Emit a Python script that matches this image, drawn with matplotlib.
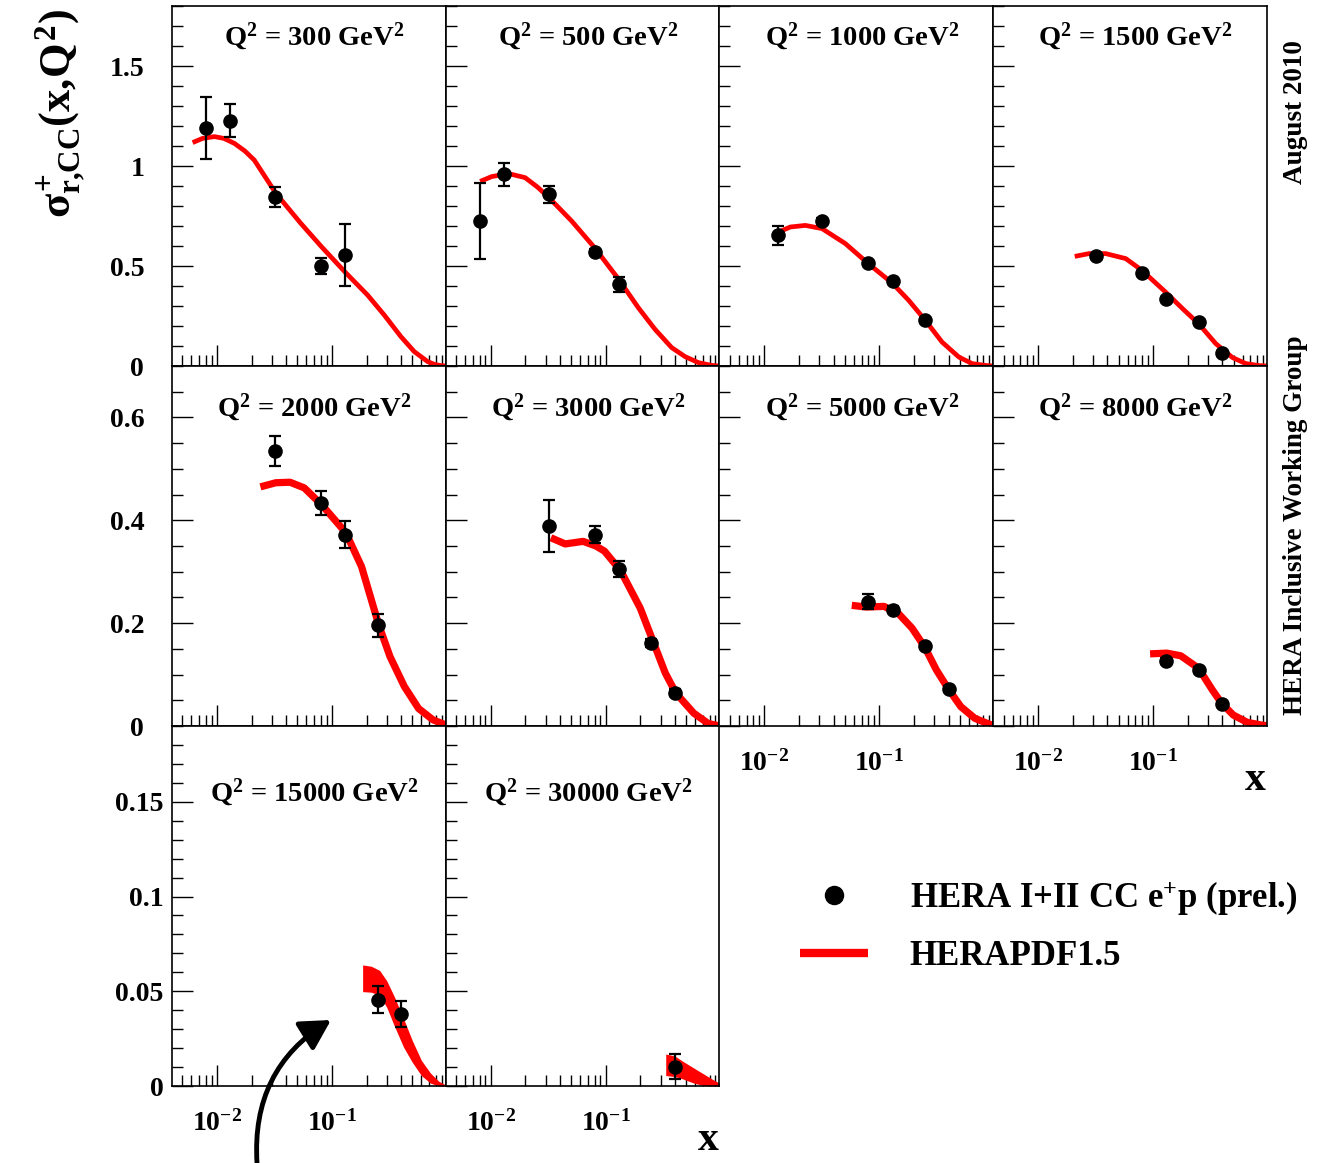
import numpy as np
import matplotlib.pyplot as plt
from matplotlib.lines import Line2D
from matplotlib.patches import FancyArrowPatch
from matplotlib.ticker import FixedLocator, MultipleLocator, LogLocator, NullFormatter

plt.rcParams['font.family'] = 'Liberation Serif'
plt.rcParams['font.weight'] = 'bold'
plt.rcParams['mathtext.fontset'] = 'custom'
plt.rcParams['mathtext.rm'] = 'Liberation Serif:bold'
plt.rcParams['mathtext.it'] = 'Liberation Serif:bold'
plt.rcParams['mathtext.bf'] = 'Liberation Serif:bold'
plt.rcParams['axes.linewidth'] = 1.2

# ---- measured reduced cross sections (HERA I+II CC e+p) ----
x_300 = [0.008, 0.013, 0.032, 0.08, 0.13]
sig_300 = [1.19, 1.227, 0.847, 0.502, 0.553]
err_300 = [0.155, 0.082, 0.05, 0.04, 0.155]

x_500 = [0.008, 0.013, 0.032, 0.08, 0.13]
sig_500 = [0.725, 0.958, 0.858, 0.572, 0.408]
err_500 = [0.188, 0.058, 0.043, 0.015, 0.038]

x_1000 = [0.013, 0.032, 0.08, 0.13, 0.25]
sig_1000 = [0.653, 0.723, 0.515, 0.423, 0.228]
err_1000 = [0.048, 0.015, 0.012, 0.012, 0.012]

x_1500 = [0.032, 0.08, 0.13, 0.25, 0.40]
sig_1500 = [0.55, 0.465, 0.337, 0.222, 0.067]
err_1500 = [0.012, 0.01, 0.01, 0.01, 0.008]

x_2000 = [0.032, 0.08, 0.13, 0.25]
sig_2000 = [0.534, 0.433, 0.372, 0.196]
err_2000 = [0.029, 0.023, 0.026, 0.022]

x_3000 = [0.032, 0.08, 0.13, 0.25, 0.40]
sig_3000 = [0.389, 0.372, 0.305, 0.162, 0.065]
err_3000 = [0.05, 0.016, 0.015, 0.008, 0.006]

x_5000 = [0.08, 0.13, 0.25, 0.40]
sig_5000 = [0.242, 0.226, 0.155, 0.072]
err_5000 = [0.015, 0.007, 0.006, 0.005]

x_8000 = [0.13, 0.25, 0.40]
sig_8000 = [0.127, 0.109, 0.042]
err_8000 = [0.006, 0.006, 0.004]

x_15000 = [0.25, 0.40]
sig_15000 = [0.0456, 0.038]
err_15000 = [0.0072, 0.007]

x_30000 = [0.40]
sig_30000 = [0.0102]
err_30000 = [0.0067]

# ---- HERAPDF1.5 predictions ----
fx_300 = [0.00615, 0.0075, 0.0095, 0.0115, 0.0142, 0.0175, 0.0211, 0.026, 0.0326, 0.0537,
          0.081, 0.13, 0.204, 0.285, 0.398, 0.52, 0.68, 0.78, 0.887, 0.98]
fy_300 = [1.117, 1.138, 1.147, 1.138, 1.113, 1.075, 1.03, 0.95, 0.863, 0.713,
          0.597, 0.47, 0.355, 0.255, 0.147, 0.072, 0.022, 0.008, 0.002, 0.0]

fx_500 = [0.0081, 0.0102, 0.0143, 0.0199, 0.0255, 0.0321, 0.0506, 0.080, 0.130, 0.192,
          0.269, 0.375, 0.49, 0.64, 0.835, 0.98]
fy_500 = [0.923, 0.947, 0.962, 0.942, 0.895, 0.842, 0.725, 0.592, 0.433, 0.292,
          0.183, 0.092, 0.047, 0.017, 0.003, 0.0]

fx_1000 = [0.0133, 0.0168, 0.0227, 0.0317, 0.0506, 0.080, 0.129, 0.18, 0.251, 0.35,
           0.49, 0.64, 0.835, 0.98]
fy_1000 = [0.67, 0.695, 0.703, 0.687, 0.612, 0.512, 0.415, 0.328, 0.228, 0.12,
           0.045, 0.012, 0.003, 0.0]

fx_1500 = [0.0208, 0.0277, 0.0387, 0.0578, 0.080, 0.128, 0.18, 0.248, 0.35, 0.49,
           0.64, 0.835, 0.98]
fy_1500 = [0.548, 0.562, 0.562, 0.537, 0.478, 0.37, 0.287, 0.212, 0.112, 0.042,
           0.012, 0.002, 0.0]

fx_2000 = [0.0239, 0.0325, 0.0432, 0.0575, 0.0824, 0.132, 0.181, 0.255, 0.32, 0.426,
           0.567, 0.756, 0.98]
fy_2000 = [0.465, 0.473, 0.474, 0.463, 0.429, 0.376, 0.31, 0.197, 0.135, 0.077,
           0.034, 0.012, 0.002]

fx_3000 = [0.0334, 0.0445, 0.0637, 0.0822, 0.0977, 0.135, 0.2, 0.258, 0.33, 0.408,
           0.583, 0.778, 0.98]
fy_3000 = [0.366, 0.354, 0.359, 0.35, 0.34, 0.302, 0.229, 0.165, 0.103, 0.064,
           0.025, 0.005, 0.0]

fx_5000 = [0.0575, 0.0773, 0.1096, 0.145, 0.192, 0.248, 0.313, 0.394, 0.51, 0.676,
           0.894, 0.98]
fy_5000 = [0.2346, 0.2313, 0.2326, 0.2196, 0.1904, 0.1533, 0.109, 0.0734, 0.0377, 0.0149,
           0.0039, 0.001]

fx_8000 = [0.094, 0.1315, 0.174, 0.248, 0.327, 0.394, 0.497, 0.658, 0.87, 0.98]
fy_8000 = [0.1403, 0.1417, 0.1365, 0.1124, 0.0702, 0.0442, 0.0214, 0.0071, 0.0019, 0.0005]

# high Q2: error band (lower / upper edge)
fx_15000 = [0.185, 0.22, 0.26, 0.30, 0.35, 0.42, 0.50, 0.60, 0.72, 0.85, 0.98]
flo_15000 = [0.0498, 0.0495, 0.048, 0.0415, 0.0315, 0.0205, 0.0125, 0.0055, 0.0015, 0.0, 0.0]
fhi_15000 = [0.0639, 0.0632, 0.061, 0.0555, 0.047, 0.0355, 0.024, 0.0135, 0.0068, 0.0025, 0.0005]

fx_30000 = [0.333, 0.40, 0.47, 0.58, 0.70, 0.85, 0.98]
flo_30000 = [0.0055, 0.005, 0.0037, 0.0016, 0.0003, 0.0, 0.0]
fhi_30000 = [0.0169, 0.0158, 0.013, 0.0096, 0.0066, 0.0035, 0.0014]

q2_bins = [300, 500, 1000, 1500, 2000, 3000, 5000, 8000, 15000, 30000]
points = {300: (x_300, sig_300, err_300), 500: (x_500, sig_500, err_500),
          1000: (x_1000, sig_1000, err_1000), 1500: (x_1500, sig_1500, err_1500),
          2000: (x_2000, sig_2000, err_2000), 3000: (x_3000, sig_3000, err_3000),
          5000: (x_5000, sig_5000, err_5000), 8000: (x_8000, sig_8000, err_8000),
          15000: (x_15000, sig_15000, err_15000), 30000: (x_30000, sig_30000, err_30000)}
curves = {300: (fx_300, fy_300), 500: (fx_500, fy_500), 1000: (fx_1000, fy_1000),
          1500: (fx_1500, fy_1500), 2000: (fx_2000, fy_2000), 3000: (fx_3000, fy_3000),
          5000: (fx_5000, fy_5000), 8000: (fx_8000, fy_8000)}
bands = {15000: (fx_15000, flo_15000, fhi_15000), 30000: (fx_30000, flo_30000, fhi_30000)}

# per-row y axis: upper limit, major ticks, tick labels, minor step
row_ymax = [1.8, 0.7, 0.19]
row_yticks = [[0, 0.5, 1, 1.5], [0, 0.2, 0.4, 0.6], [0, 0.05, 0.1, 0.15]]
row_ylabels = [['0', '0.5', '1', '1.5'], ['0', '0.2', '0.4', '0.6'], ['0', '0.05', '0.1', '0.15']]
row_yminor = [0.1, 0.05, 0.01]

W, H = 1325.0, 1163.0
fig = plt.figure(figsize=(13.25, 11.63), dpi=100)

left0, top0, pw, ph = 172.0, 6.0, 273.75, 360.0
title_y = [0.914, 0.883, 0.814]
line_w = [3.4, 5.2]
xlabel_panels = [5000, 8000, 15000, 30000]

for i, q2 in enumerate(q2_bins):
    row, col = i // 4, i % 4
    ax = fig.add_axes([(left0 + col * pw) / W, 1 - (top0 + (row + 1) * ph) / H, pw / W, ph / H])
    ax.set_xscale('log')
    ax.set_xlim(0.00407, 0.977)
    ax.set_ylim(0, row_ymax[row])

    if q2 in curves:
        cx, cy = curves[q2]
        ax.plot(cx, cy, color='red', lw=line_w[row], solid_capstyle='butt',
                solid_joinstyle='round', zorder=2)
    else:
        bx, blo, bhi = bands[q2]
        ax.fill_between(bx, blo, bhi, color='red', lw=0, zorder=2)

    px, py, pe = points[q2]
    ax.errorbar(px, py, yerr=pe, fmt='o', color='black', ms=9.5, elinewidth=1.6,
                capsize=4.5, capthick=1.6, zorder=3)

    ax.text(0.52, title_y[row], r'Q$^{2}$ = %d GeV$^{2}$' % q2, transform=ax.transAxes,
            ha='center', va='center', fontsize=20.5, fontweight='bold')

    ax.xaxis.set_major_locator(FixedLocator([0.01, 0.1]))
    ax.xaxis.set_minor_locator(LogLocator(base=10, subs=np.arange(2, 10), numticks=20))
    ax.xaxis.set_minor_formatter(NullFormatter())
    ax.set_yticks(row_yticks[row])
    ax.yaxis.set_minor_locator(MultipleLocator(row_yminor[row]))

    ax.tick_params(which='both', direction='in', top=False, right=False, width=1.0,
                   labelsize=20)
    ax.tick_params(which='major', length=15)
    ax.tick_params(which='minor', length=8)
    ax.tick_params(axis='x', pad=17)
    ax.tick_params(axis='y', pad=6 if row == 2 else 20)

    if q2 in xlabel_panels:
        ax.set_xticklabels([r'$10^{-2}$', r'$10^{-1}$'])
    else:
        ax.tick_params(axis='x', labelbottom=False)
    if col == 0:
        ax.set_yticklabels(row_ylabels[row])
    else:
        ax.tick_params(axis='y', labelleft=False)

# axis titles and annotations
fig.text(60 / W, 1 - 114 / H, r'$\sigma^{+}_{r{,}CC}(x{,}Q^{2})$', rotation=90,
         ha='center', va='center', fontsize=32)
fig.text(1255 / W, 1 - 780 / H, 'x', ha='center', va='center', fontsize=30, fontweight='bold')
fig.text(708 / W, 1 - 1140 / H, 'x', ha='center', va='center', fontsize=30, fontweight='bold')
fig.text(1295 / W, 1 - 112 / H, 'August 2010', rotation=90, ha='center', va='center',
         fontsize=19.5, fontweight='bold')
fig.text(1295 / W, 1 - 525 / H, 'HERA Inclusive Working Group', rotation=90,
         ha='center', va='center', fontsize=19.5, fontweight='bold')

h_data = Line2D([], [], ls='none', marker='o', ms=13, color='black')
h_fit = Line2D([], [], color='red', lw=6, solid_capstyle='butt')
fig.legend([h_data, h_fit], ['HERA I+II CC e$^{+}$p (prel.)', 'HERAPDF1.5'],
           loc='center left', bbox_to_anchor=(800 / W, 1 - 926 / H), frameon=False,
           fontsize=25, handlelength=1.96, handletextpad=1.2, labelspacing=0.65,
           borderpad=0, borderaxespad=0)

arrow = FancyArrowPatch((257 / W, 0.0), (331 / W, 1 - 1020 / H), transform=fig.transFigure,
                        connectionstyle='arc3,rad=-0.3',
                        arrowstyle='-|>,head_length=0.9,head_width=0.5',
                        mutation_scale=20, lw=3.5, color='black', shrinkA=0, shrinkB=0)
fig.add_artist(arrow)

fig.savefig('out.png', dpi=100)
